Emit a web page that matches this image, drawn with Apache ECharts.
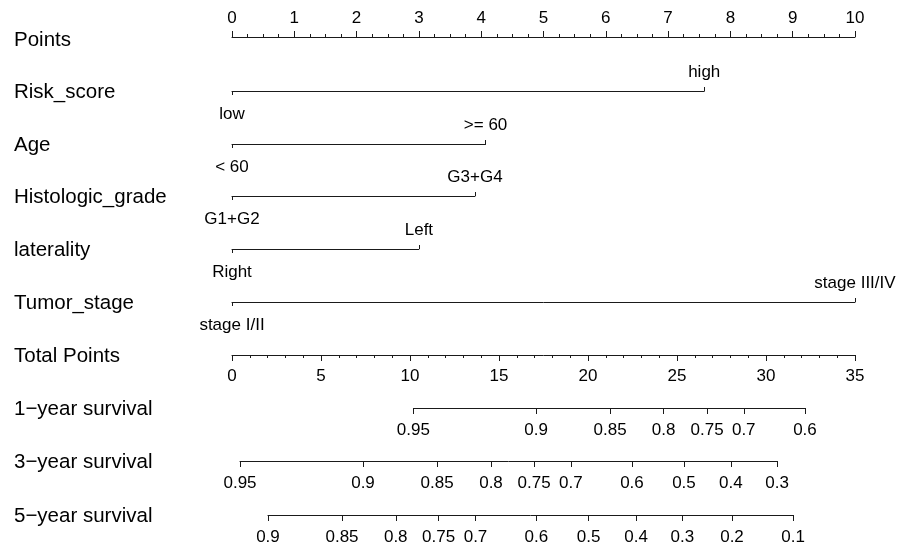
<!DOCTYPE html>
<html>
<head>
<meta charset="utf-8">
<script src="https://cdn.jsdelivr.net/npm/echarts@6/dist/echarts.min.js"></script>
<style>html,body{margin:0;background:#fff}#main{width:906px;height:544px}</style>
</head>
<body>
<div id="main"></div>
<script>
// row titles, top to bottom
var rowNames = ['Points', 'Risk_score', 'Age', 'Histologic_grade', 'laterality', 'Tumor_stage',
    'Total Points', '1\u2212year survival', '3\u2212year survival', '5\u2212year survival'];

// predictor levels and their points (0-10 scale)
var riskLevels = ['low', 'high'];
var riskPoints = [0, 7.58];
var ageLevels = ['< 60', '>= 60'];
var agePoints = [0, 4.07];
var gradeLevels = ['G1+G2', 'G3+G4'];
var gradePoints = [0, 3.9];
var lateralityLevels = ['Right', 'Left'];
var lateralityPoints = [0, 3.0];
var stageLevels = ['stage I/II', 'stage III/IV'];
var stagePoints = [0, 10];

// survival scales: label and the total points where it sits
var surv1Labels = ['0.95', '0.9', '0.85', '0.8', '0.75', '0.7', '0.6'];
var surv1Points = [10.19, 17.08, 21.24, 24.25, 26.69, 28.75, 32.19];
var surv3Labels = ['0.95', '0.9', '0.85', '0.8', '0.75', '0.7', '0.6', '0.5', '0.4', '0.3'];
var surv3Points = [0.45, 7.36, 11.52, 14.55, 16.97, 19.04, 22.47, 25.39, 28.03, 30.62];
var surv5Labels = ['0.9', '0.85', '0.8', '0.75', '0.7', '0.6', '0.5', '0.4', '0.3', '0.2', '0.1'];
var surv5Points = [2.02, 6.18, 9.2, 11.61, 13.68, 17.1, 20.03, 22.7, 25.3, 28.09, 31.52];

var pointsMax = 10;
var totalMax = 35;

var X0 = 232, X1 = 855;
var rowY = [37, 91, 144, 196, 249, 302, 355, 408, 461, 515];
var FONT = 'Liberation Sans';
var lineColor = '#1a1a1a';

function px(v, scaleMax) { return X0 + v / scaleMax * (X1 - X0); }

var grids = [], xAxes = [], yAxes = [], series = [];

function addGrid(y, min, max, scaleMax) {
    grids.push({ left: px(min, scaleMax), top: y, width: px(max, scaleMax) - px(min, scaleMax), height: 0 });
    yAxes.push({ gridIndex: grids.length - 1, show: false, min: 0, max: 1 });
    return grids.length - 1;
}

function lookup(values, labels, v) {
    var best = 0;
    for (var i = 1; i < values.length; i++) {
        if (Math.abs(values[i] - v) < Math.abs(values[best] - v)) best = i;
    }
    return labels[best];
}

var labelStyle = { color: '#000', fontSize: 17, fontFamily: FONT };

// Points axis
var g = addGrid(rowY[0], 0, pointsMax, pointsMax);
xAxes.push({
    gridIndex: g, type: 'value', position: 'top', min: 0, max: pointsMax, interval: 1,
    axisLine: { show: true, lineStyle: { color: lineColor, width: 1 } },
    axisTick: { show: true, length: 6, lineStyle: { color: lineColor } },
    minorTick: { show: true, splitNumber: 4, length: 3, lineStyle: { color: lineColor } },
    splitLine: { show: false },
    axisLabel: Object.assign({ margin: 10 }, labelStyle)
});

// predictor rows
var predictors = [
    [riskPoints, riskLevels], [agePoints, ageLevels], [gradePoints, gradeLevels],
    [lateralityPoints, lateralityLevels], [stagePoints, stageLevels]
];
predictors.forEach(function (p, i) {
    var pts = p[0], lv = p[1];
    var gi = addGrid(rowY[i + 1], pts[0], pts[1], pointsMax);
    var fmt = function (v) { return lookup(pts, lv, v); };
    xAxes.push({
        gridIndex: gi, type: 'value', position: 'bottom', min: pts[0], max: pts[1],
        axisLine: { show: true, lineStyle: { color: lineColor, width: 1 } },
        axisTick: { show: true, length: 4, customValues: [pts[0]], lineStyle: { color: lineColor } },
        splitLine: { show: false },
        axisLabel: Object.assign({ margin: 15, customValues: [pts[0]], formatter: fmt }, labelStyle)
    });
    xAxes.push({
        gridIndex: gi, type: 'value', position: 'top', min: pts[0], max: pts[1],
        axisLine: { show: false },
        axisTick: { show: true, length: 4, customValues: [pts[1]], lineStyle: { color: lineColor } },
        splitLine: { show: false },
        axisLabel: Object.assign({ margin: 10, customValues: [pts[1]], formatter: fmt }, labelStyle)
    });
});

// Total points axis
g = addGrid(rowY[6], 0, totalMax, totalMax);
xAxes.push({
    gridIndex: g, type: 'value', position: 'bottom', min: 0, max: totalMax, interval: 5,
    axisLine: { show: true, lineStyle: { color: lineColor, width: 1 } },
    axisTick: { show: true, length: 6, lineStyle: { color: lineColor } },
    minorTick: { show: true, splitNumber: 5, length: 3, lineStyle: { color: lineColor } },
    splitLine: { show: false },
    axisLabel: Object.assign({ margin: 13 }, labelStyle)
});

// survival axes
[[surv1Points, surv1Labels], [surv3Points, surv3Labels], [surv5Points, surv5Labels]].forEach(function (s, i) {
    var pts = s[0], lb = s[1];
    var gi = addGrid(rowY[7 + i], pts[0], pts[pts.length - 1], totalMax);
    xAxes.push({
        gridIndex: gi, type: 'value', position: 'bottom', min: pts[0], max: pts[pts.length - 1],
        axisLine: { show: true, lineStyle: { color: lineColor, width: 1 } },
        axisTick: { show: true, length: 6, customValues: pts, lineStyle: { color: lineColor } },
        splitLine: { show: false },
        axisLabel: Object.assign({
            margin: 14, customValues: pts,
            formatter: function (v) { return lookup(pts, lb, v); }
        }, labelStyle)
    });
});

// row titles
var titles = rowNames.map(function (name, i) {
    return {
        type: 'text', x: 14, y: rowY[i] + (i === 0 ? 3 : 1),
        style: { text: name, fill: '#000', fontSize: 20.5, fontFamily: FONT, verticalAlign: 'middle' }
    };
});

var myChart = echarts.init(document.getElementById('main'));
myChart.setOption({
    animation: false,
    backgroundColor: '#fff',
    grid: grids,
    xAxis: xAxes,
    yAxis: yAxes,
    graphic: titles,
    series: series
});
</script>
</body>
</html>
